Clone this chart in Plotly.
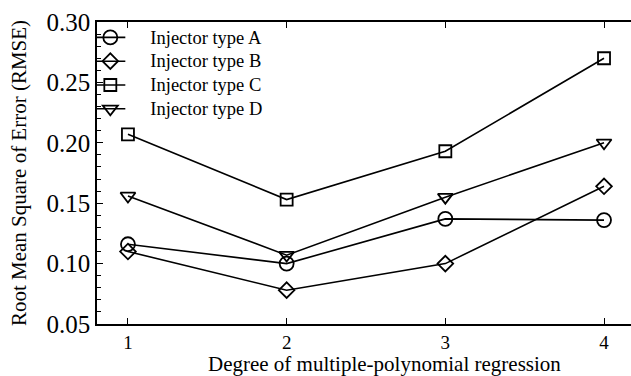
import plotly.graph_objects as go

degrees = [1, 2, 3, 4]
type_a = [0.116, 0.100, 0.137, 0.136]
type_b = [0.110, 0.078, 0.100, 0.164]
type_c = [0.207, 0.153, 0.193, 0.270]
type_d = [0.156, 0.107, 0.155, 0.200]
names = ["Injector type A", "Injector type B", "Injector type C", "Injector type D"]
symbols = ["circle-open", "diamond-open", "square-open", "triangle-down-open"]
sizes = [14, 12, 12, 13]
y_ticks = [0.05, 0.10, 0.15, 0.20, 0.25, 0.30]
y_labels = ["0.05", "0.10", "0.15", "0.20", "0.25", "0.30"]

FONT = "Liberation Serif"
PAD = "\u00a0" * 5

fig = go.Figure()
for i, (name, vals) in enumerate(zip(names, [type_a, type_b, type_c, type_d])):
    fig.add_trace(go.Scatter(
        x=degrees, y=vals,
        name=PAD + '<span style="font-size:18.5px">' + name + "</span>",
        mode="lines+markers",
        line=dict(color="black", width=1.6),
        marker=dict(symbol=symbols[i], size=sizes[i], color="black",
                    line=dict(color="black", width=1.8)),
        legendgroup=f"g{i}",
    ))

fig.update_layout(
    width=631, height=376,
    margin=dict(l=97, r=0, t=22, b=52),
    paper_bgcolor="white", plot_bgcolor="white",
    font=dict(family=FONT, color="black"),
    showlegend=True,
    legend=dict(x=-0.0125, y=1.005, xanchor="left", yanchor="top",
                bgcolor="rgba(0,0,0,0)", borderwidth=0,
                font=dict(family=FONT, size=16, color="black"),
                tracegroupgap=0),
    xaxis=dict(
        range=[0.805, 4.17], tickvals=degrees, ticktext=[str(d) for d in degrees],
        ticks="inside", ticklen=6, tickcolor="black", tickwidth=1,
        showline=True, linecolor="black", linewidth=1.5, mirror="ticks",
        showgrid=False, zeroline=False,
        tickfont=dict(family=FONT, size=19, color="black"),
    ),
    yaxis=dict(
        range=[0.05, 0.30], tickvals=y_ticks, ticktext=y_labels,
        ticks="inside", ticklen=6, tickcolor="black", tickwidth=1,
        minor=dict(dtick=0.01, ticks="inside", ticklen=4, tickcolor="black", showgrid=False),
        showline=True, linecolor="black", linewidth=1.5,
        showgrid=False, zeroline=False,
        tickfont=dict(family=FONT, size=25, color="black"),
        title=dict(text="Root Mean Square of Error (RMSE)",
                   font=dict(family=FONT, size=21, color="black"), standoff=14),
    ),
    annotations=[dict(
        text="Degree of multiple-polynomial regression",
        xref="paper", yref="paper", x=0.539, y=-0.131,
        xanchor="center", yanchor="middle", showarrow=False,
        font=dict(family=FONT, size=21, color="black"),
    )],
)

fig.write_html("out.html")
